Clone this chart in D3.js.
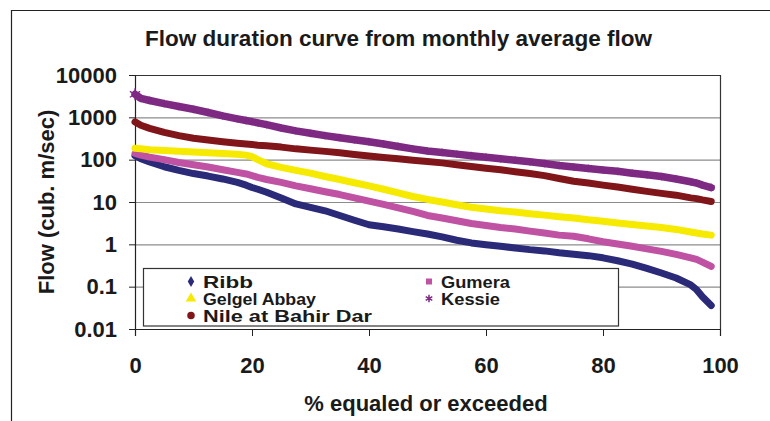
<!DOCTYPE html>
<html>
<head>
<meta charset="utf-8">
<script src="https://cdn.jsdelivr.net/npm/d3@7"></script>
<style>
  html, body { margin: 0; padding: 0; background: #fff; }
  svg { display: block; font-family: "Liberation Sans", Arial, sans-serif; }
</style>
</head>
<body>
<svg id="chart" width="770" height="421"></svg>
<script>
// Percent of time a flow is equaled or exceeded
const pct = [0,1,2.5,5,7.5, 10,12.5,15,17.5,19, 20,21,22.5,25,27.5, 30,32.5,35,37.5,40,
             42.5,45,47.5,50,52.5, 55,57.5,60,62.5,65, 67.5,70,72.5,75,77.5,
             80,82.5,85,87.5,90, 92.5,95,96,97,98.5];

// Monthly average flow (cub. m/sec) for each gauging station
const ribb = [125,105,88,68,56, 47,41,35,29,25, 22,20,17,12.5,9, 7.5,6.2,4.8,3.7,2.9,
              2.6,2.3,2.0,1.75,1.5, 1.25,1.08,0.98,0.9,0.82, 0.75,0.7,0.63,0.58,0.54,
              0.48,0.41,0.34,0.27,0.21, 0.16,0.11,0.085,0.058,0.036];
const gumera = [140,128,115,100,86, 76,67,58,50,46, 42,38,34,29,24, 20.5,17.5,15,12.5,10.5,
                8.8,7.3,6,4.8,4.2, 3.6,3.1,2.8,2.5,2.3, 2.05,1.85,1.65,1.55,1.35,
                1.15,1.02,0.9,0.78,0.68, 0.58,0.48,0.44,0.38,0.30];
const gelgelAbbay = [185,180,172,165,158, 151,146,140,134,128, 118,100,80,66,56, 48,40,34,28.5,24,
                     20,16.5,13.5,11.5,10, 8.6,7.5,6.8,6.2,5.8, 5.3,4.9,4.5,4.2,3.8,
                     3.5,3.2,2.95,2.7,2.5, 2.25,1.95,1.85,1.75,1.65];
const kessie = [3500,2800,2500,2100,1800, 1550,1300,1080,920,840, 790,740,670,560,480,
                420,370,330,295,265, 235,205,180,160,148, 135,124,114,105,97,
                89,81,73,67,62, 57,53,48,44,40, 35,30,28,25,22];
const nileBahirDar = [780,650,550,440,370, 320,290,265,245,235, 228,220,212,198,180,
                      168,157,145,133,122, 113,105,97,91,84, 76,69,63,58,52,
                      47,42,36,31,28, 25,22.5,20,17.8,16, 14.5,12.5,12,11.2,10.3];

const seriesNames = ["Ribb", "Gumera", "Gelgel Abbay", "Kessie", "Nile at Bahir Dar"];
const seriesValues = [ribb, gumera, gelgelAbbay, kessie, nileBahirDar];

const yTicks = [0.01, 0.1, 1, 10, 100, 1000, 10000];
const yTickLabels = ["0.01", "0.1", "1", "10", "100", "1000", "10000"];
const xTicks = [0, 20, 40, 60, 80, 100];
const xTickLabels = ["0", "20", "40", "60", "80", "100"];

const titleText = "Flow duration curve from monthly average flow";
const xTitle = "% equaled or exceeded";
const yTitle = "Flow (cub. m/sec)";

// Styling per series
const colors = ["#2a2a78", "#bf52a3", "#f5ea00", "#7e2a83", "#80161a"];
const symbols = [d3.symbolDiamond, d3.symbolSquare, d3.symbolTriangle, d3.symbolAsterisk, d3.symbolCircle];

const svg = d3.select("#chart");
const plot = { left: 135, right: 720, top: 75, bottom: 329 };

const x = d3.scaleLinear().domain([0, 100]).range([plot.left, plot.right]);
const y = d3.scaleLog().domain([0.01, 10000]).range([plot.bottom, plot.top]);

// Outer chart frame (left and top edges)
svg.append("path")
  .attr("d", "M11.5,421 V10.5 H770")
  .attr("fill", "none").attr("stroke", "#222").attr("stroke-width", 1.2);

// Title
svg.append("text")
  .attr("x", 398.5).attr("y", 46)
  .attr("text-anchor", "middle")
  .attr("font-size", 22.5).attr("font-weight", "bold").attr("fill", "#1a1a1a")
  .attr("textLength", 507).attr("lengthAdjust", "spacingAndGlyphs")
  .text(titleText);

// Horizontal gridlines at each decade
svg.append("g")
  .attr("transform", `translate(${plot.left},0)`)
  .call(d3.axisLeft(y).tickValues(yTicks).tickSize(-(plot.right - plot.left)).tickFormat(""))
  .call(g => g.select(".domain").remove())
  .call(g => g.selectAll(".tick line").attr("stroke", "#8c8c8c").attr("stroke-width", 1.2));

// Plot frame (top and right edges)
svg.append("path")
  .attr("d", `M${plot.left},${plot.top + 0.5} H${plot.right + 0.5} V${plot.bottom}`)
  .attr("fill", "none").attr("stroke", "#333").attr("stroke-width", 1.2);

// Y axis
svg.append("g")
  .attr("transform", `translate(${plot.left},0)`)
  .call(d3.axisLeft(y).tickValues(yTicks).tickSize(6).tickPadding(12)
        .tickFormat((d, i) => yTickLabels[i]))
  .call(g => g.select(".domain").attr("stroke", "#222").attr("stroke-width", 1.2))
  .call(g => g.selectAll(".tick line").attr("stroke", "#222"))
  .call(g => g.selectAll("text")
      .attr("font-size", 22).attr("font-weight", "bold").attr("fill", "#1a1a1a")
      .attr("font-family", "Liberation Sans, Arial, sans-serif"));

// X axis
svg.append("g")
  .attr("transform", `translate(0,${plot.bottom})`)
  .call(d3.axisBottom(x).tickValues(xTicks).tickSize(7).tickPadding(21)
        .tickFormat((d, i) => xTickLabels[i]))
  .call(g => g.select(".domain").attr("stroke", "#222").attr("stroke-width", 1.2))
  .call(g => g.selectAll(".tick line").attr("stroke", "#222"))
  .call(g => g.selectAll("text")
      .attr("font-size", 22).attr("font-weight", "bold").attr("fill", "#1a1a1a")
      .attr("font-family", "Liberation Sans, Arial, sans-serif"));

// Axis titles
svg.append("text")
  .attr("x", 426).attr("y", 411)
  .attr("text-anchor", "middle")
  .attr("font-size", 22).attr("font-weight", "bold").attr("fill", "#1a1a1a")
  .text(xTitle);

svg.append("text")
  .attr("transform", "translate(54,202) rotate(-90)")
  .attr("text-anchor", "middle")
  .attr("font-size", 22).attr("font-weight", "bold").attr("fill", "#1a1a1a")
  .text(yTitle);

// Flow duration curves: dense monthly markers drawn as thick bands
const line = d3.line().x((d, i) => x(pct[i])).y(d => y(d));
const curves = svg.append("g");
seriesValues.forEach((vals, s) => {
  const g = curves.append("g");
  g.append("path")
    .attr("d", line(vals))
    .attr("fill", "none")
    .attr("stroke", colors[s])
    .attr("stroke-width", s === 3 ? 7.5 : 7)
    .attr("stroke-linejoin", "round")
    .attr("stroke-linecap", "round");
  if (s === 3) {
    // Kessie uses asterisk markers, which give the band a fuzzy edge
    g.selectAll("path.mk")
      .data(vals)
      .join("path")
      .attr("class", "mk")
      .attr("transform", (d, i) => `translate(${x(pct[i])},${y(d)})`)
      .attr("d", (d, i) => d3.symbol(d3.symbolAsterisk, i === 0 ? 100 : 42)())
      .attr("fill", "none")
      .attr("stroke", colors[s])
      .attr("stroke-width", 1.3)
      .attr("stroke-opacity", (d, i) => i === 0 ? 1 : 0.7);
  }
});

// Legend
const legend = svg.append("g");
legend.append("rect")
  .attr("x", 143.5).attr("y", 268.5)
  .attr("width", 475).attr("height", 57.5)
  .attr("fill", "#fff").attr("stroke", "#333").attr("stroke-width", 1.2);

const legendPos = [
  { mx: 191, tx: 203, by: 287.5 },
  { mx: 429, tx: 441, by: 287.5 },
  { mx: 191, tx: 203, by: 304.5 },
  { mx: 429, tx: 441, by: 304.5 },
  { mx: 191, tx: 203, by: 321.5 }
];
const legendWidths = [50, 69, 113, 59, 169];
const symbolSizes = [36, 36, 48, 40, 44];

seriesNames.forEach((name, s) => {
  const p = legendPos[s];
  const isStroke = symbols[s] === d3.symbolAsterisk;
  legend.append("path")
    .attr("transform", `translate(${p.mx},${p.by - 6})`)
    .attr("d", d3.symbol(symbols[s], symbolSizes[s])())
    .attr("fill", isStroke ? "none" : colors[s])
    .attr("stroke", isStroke ? colors[s] : "none")
    .attr("stroke-width", isStroke ? 1.5 : 0);
  legend.append("text")
    .attr("x", p.tx).attr("y", p.by)
    .attr("font-size", 16.5).attr("font-weight", "bold").attr("fill", "#1a1a1a")
    .attr("textLength", legendWidths[s]).attr("lengthAdjust", "spacingAndGlyphs")
    .text(name);
});
</script>
</body>
</html>
